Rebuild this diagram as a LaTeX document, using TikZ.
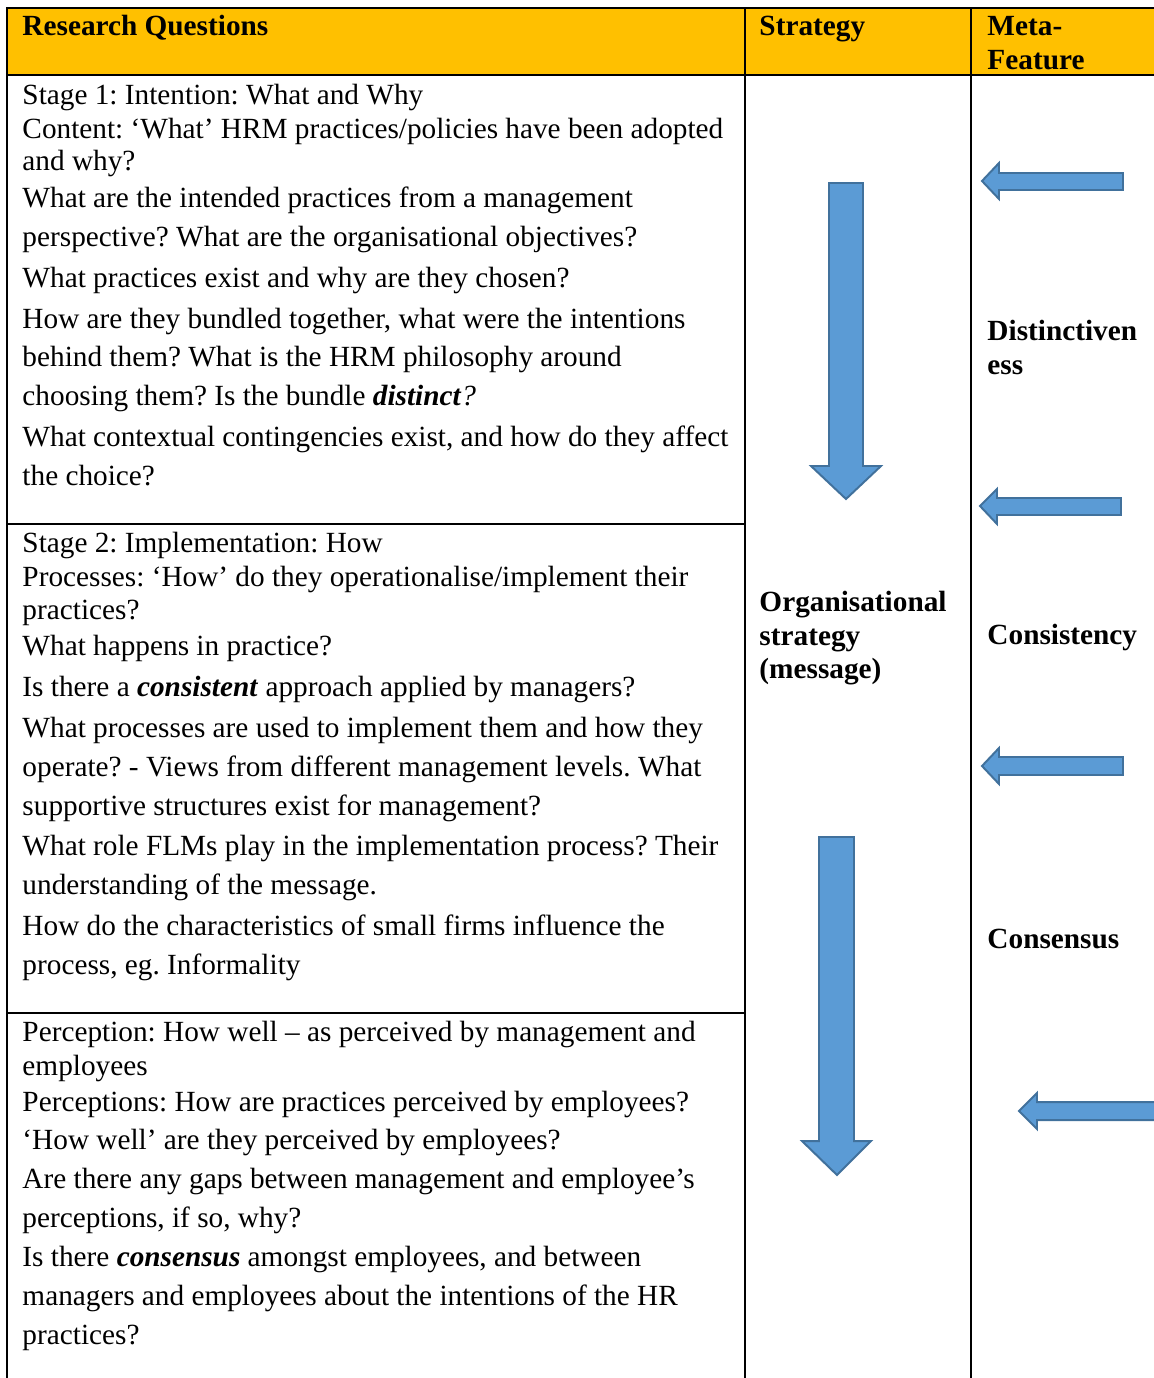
\documentclass[tikz,border=0pt]{standalone}
\usepackage{fontspec}
\setmainfont{Liberation Serif}
\frenchspacing
\definecolor{headfill}{HTML}{FFC000}
\definecolor{arrowfill}{HTML}{5B9BD5}
\definecolor{arrowline}{HTML}{41719C}
\begin{document}
\begin{tikzpicture}[x=0.4065pt,y=-0.4065pt,
  rule/.style={line width=1.2pt,black},
  txt/.style={anchor=base west,inner sep=0pt,font=\fontsize{11.9}{14}\selectfont},
  hdr/.style={txt,font=\fontsize{11.9}{14}\selectfont\bfseries},
  blockarrow/.style={fill=arrowfill,draw=arrowline,line width=0.8pt,line join=miter}]
\useasboundingbox (0,0) rectangle (1154,1378);

% header band
\fill[headfill] (7,8) rectangle (1154,75);

% table rules
\draw[rule] (1154,8) -- (7,8) -- (7,1378);
\draw[rule] (7,75) -- (1154,75);
\draw[rule] (745,8) -- (745,1378);
\draw[rule] (971,8) -- (971,1378);
\draw[rule] (7,524) -- (745,524);
\draw[rule] (7,1013) -- (745,1013);

% header texts
\node[hdr] (hq) at (22,35) {Research Questions};
\node[hdr] (hs) at (759,35) {Strategy};
\node[hdr] (hm1) at (987,35) {Meta-};
\node[hdr] (hm2) at (987,69) {Feature};

% stage 1
\node[txt] (a1) at (22,104) {Stage 1: Intention: What and Why};
\node[txt] (a2) at (22,138) {Content: ‘What’ HRM practices/policies have been adopted};
\node[txt] (a3) at (22,170) {and why?};
\node[txt] (a4) at (22,207) {What are the intended practices from a management};
\node[txt] (a5) at (22,246) {perspective? What are the organisational objectives?};
\node[txt] (a6) at (22,287) {What practices exist and why are they chosen?};
\node[txt] (a7) at (22,328) {How are they bundled together, what were the intentions};
\node[txt] (a8) at (22,366) {behind them? What is the HRM philosophy around};
\node[txt] (a9) at (22,405) {choosing them? Is the bundle \textbf{\textit{distinct}}\textit{?}};
\node[txt] (a10) at (22,446) {What contextual contingencies exist, and how do they affect};
\node[txt] (a11) at (22,485) {the choice?};

% stage 2
\node[txt] (b1) at (22,552) {Stage 2: Implementation: How};
\node[txt] (b2) at (22,586) {Processes: ‘How’ do they operationalise/implement their};
\node[txt] (b3) at (22,619) {practices?};
\node[txt] (b4) at (22,655) {What happens in practice?};
\node[txt] (b5) at (22,696) {Is there a \textbf{\textit{consistent}} approach applied by managers?};
\node[txt] (b6) at (22,737) {What processes are used to implement them and how they};
\node[txt] (b7) at (22,776) {operate? - Views from different management levels. What};
\node[txt] (b8) at (22,815) {supportive structures exist for management?};
\node[txt] (b9) at (22,855) {What role FLMs play in the implementation process? Their};
\node[txt] (b10) at (22,894) {understanding of the message.};
\node[txt] (b11) at (22,935) {How do the characteristics of small firms influence the};
\node[txt] (b12) at (22,974) {process, eg. Informality};

% stage 3
\node[txt] (c1) at (22,1041) {Perception: How well – as perceived by management and};
\node[txt] (c2) at (22,1075) {employees};
\node[txt] (c3) at (22,1111) {Perceptions: How are practices perceived by employees?};
\node[txt] (c4) at (22,1149) {‘How well’ are they perceived by employees?};
\node[txt] (c5) at (22,1188) {Are there any gaps between management and employee’s};
\node[txt] (c6) at (22,1227) {perceptions, if so, why?};
\node[txt] (c7) at (22,1266) {Is there \textbf{\textit{consensus}} amongst employees, and between};
\node[txt] (c8) at (22,1305) {managers and employees about the intentions of the HR};
\node[txt] (c9) at (22,1344) {practices?};

% strategy column
\node[hdr] (s1) at (759,611) {Organisational};
\node[hdr] (s2) at (759,645) {strategy};
\node[hdr] (s3) at (759,678) {(message)};

% meta-feature column
\node[hdr] (m1) at (987,340) {Distinctiven};
\node[hdr] (m2) at (987,374) {ess};
\node[hdr] (m3) at (987,644) {Consistency};
\node[hdr] (m4) at (987,948) {Consensus};

% downward block arrows
\draw[blockarrow] (829,183) -- (863,183) -- (863,466) -- (881,466) -- (846,499)
  -- (811,466) -- (829,466) -- cycle;
\draw[blockarrow] (819,837) -- (854,837) -- (854,1141) -- (871,1141) -- (837,1175)
  -- (802,1141) -- (819,1141) -- cycle;

% leftward block arrows
\draw[blockarrow] (982,181) -- (999,163) -- (999,173) -- (1123,173) -- (1123,190)
  -- (999,190) -- (999,199) -- cycle;
\draw[blockarrow] (980,506) -- (997,489) -- (997,498) -- (1121,498) -- (1121,515)
  -- (997,515) -- (997,524) -- cycle;
\draw[blockarrow] (982,766) -- (999,748) -- (999,757) -- (1123,757) -- (1123,775)
  -- (999,775) -- (999,784) -- cycle;
\draw[blockarrow] (1019,1111) -- (1037,1093) -- (1037,1102) -- (1160,1102) -- (1160,1120)
  -- (1037,1120) -- (1037,1129) -- cycle;
\end{tikzpicture}
\end{document}
